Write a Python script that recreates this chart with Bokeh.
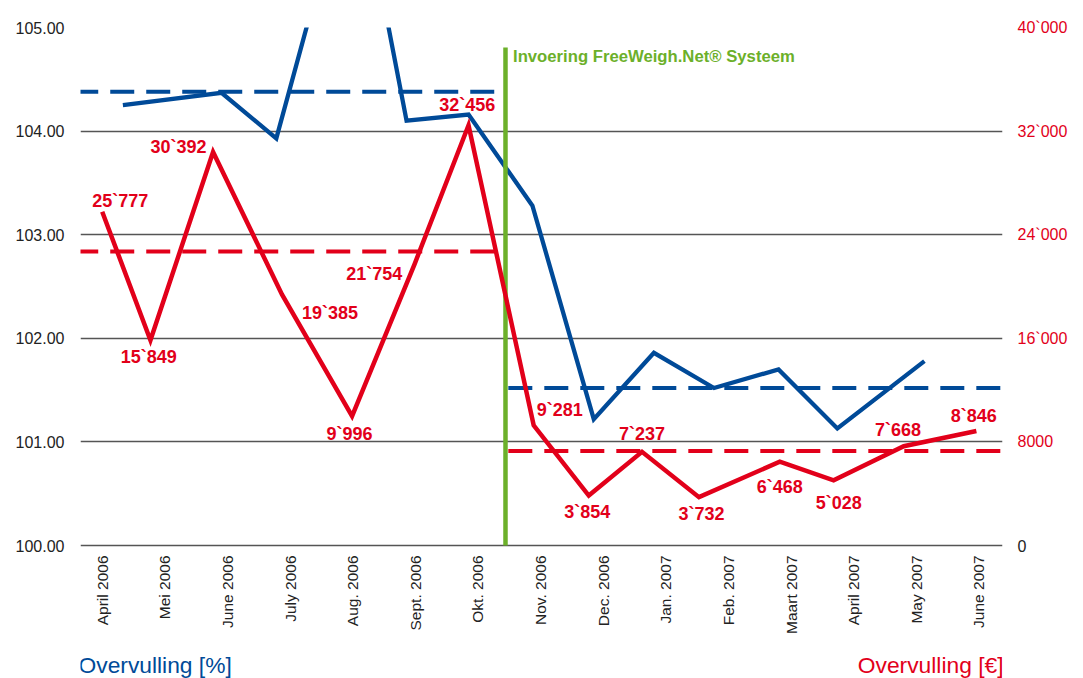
import math
from bokeh.plotting import figure
from bokeh.models import Range1d, LinearAxis, FixedTicker, ColumnDataSource, Label, NumeralTickFormatter
from bokeh.core.properties import value
from bokeh.embed import file_html
from bokeh.resources import INLINE

# ---------------- data ----------------
months = ["April 2006", "Mei 2006", "June 2006", "July 2006", "Aug. 2006", "Sept. 2006",
          "Okt. 2006", "Nov. 2006", "Dec. 2006", "Jan. 2007", "Feb. 2007", "Maart 2007",
          "April 2007", "May 2007", "June 2007"]
month_pos = list(range(len(months)))

# Overvulling in euro (labelled values) and where each point sits along the month axis
red_eur = [25777, 15849, 30392, 19385, 9996, 21754, 32456, 9281, 3854, 7237, 3732, 6468, 5028, 7668, 8846]
red_x = [0.0, 0.77, 1.77, 2.87, 3.99, 4.99, 5.85, 6.89, 7.77, 8.62, 9.53, 10.82, 11.68, 12.80, 13.96]

# Overvulling in percent
blue_x = [0.33, 1.905, 2.78, 4.03, 4.86, 5.85, 6.87, 7.85, 8.81, 9.77, 10.80, 11.74, 13.13]
blue_pct = [104.25, 104.37, 103.93, 106.70, 104.10, 104.16, 103.28, 101.22, 101.86, 101.52, 101.70, 101.13, 101.78]

# averages before / after the introduction
blue_avg = [104.38, 101.52]
red_avg = [22700, 7300]
intro_x = 6.44
intro_text = "Invoering FreeWeigh.Net® Systeem"

pct_ticks = [100, 101, 102, 103, 104, 105]
eur_ticks = [8000, 16000, 24000, 32000, 40000]
eur_tick_labels = ["8000", "16`000", "24`000", "32`000", "40`000"]
eur_zero = [0]
eur_per_pct = 8000

caption_pct = "Overvulling [%]"
caption_eur = "Overvulling [€]"

# ---------------- style / layout ----------------
BLUE = "#004a98"
RED = "#e2001a"
GREEN = "#6cb02a"
GRID = "#555555"
TXT = "#222222"
FONT = "Liberation Sans"

# label placement (pixels, screen: +x right, +y down)
lab_dx = [18, -1.6, -34.5, 48, -2.6, -40.4, -1.3, 26, -1.6, 0, 2.5, 0, 5.2, -5.7, -2.6]
lab_dy = [-11, 17, -4.7, 18.7, 17.7, 10, -20.4, -15.8, 16, -18, 16.6, 25.5, 22.4, -16.4, -15.4]

W, H = 1083, 678
FL, FR, FT = 80, 81, 27
AXIS_BOTTOM_PX = 545            # where the 100 % line sits on the page
x_lo, x_hi = -0.347, 14.377
ppm = (W - FL - FR) / (x_hi - x_lo)                    # pixels per month
ppp = (AXIS_BOTTOM_PX - FT) / (pct_ticks[-1] - pct_ticks[0])  # pixels per percent
y_lo = pct_ticks[0] - (H - AXIS_BOTTOM_PX) / ppp       # frame runs to the bottom of the page
y_hi = pct_ticks[-1]


def page_y(px):
    """percent value that sits at a given page row"""
    return pct_ticks[0] + (AXIS_BOTTOM_PX - px) / ppp


p = figure(width=W, height=H, x_range=Range1d(x_lo, x_hi), y_range=Range1d(y_lo, y_hi),
           output_backend="svg", toolbar_location=None, x_axis_location=None,
           min_border_left=FL, min_border_right=FR, min_border_top=FT, min_border_bottom=0)
p.extra_y_ranges = {"eur": Range1d((y_lo - pct_ticks[0]) * eur_per_pct, (y_hi - pct_ticks[0]) * eur_per_pct)}
p.outline_line_color = None
p.background_fill_color = "white"
p.border_fill_color = "white"

# grid
p.xgrid.visible = False
p.ygrid.ticker = FixedTicker(ticks=pct_ticks)
p.ygrid.grid_line_color = GRID
p.ygrid.grid_line_width = 1.3


def style_axis(ax, color, size, standoff):
    ax.axis_line_color = None
    ax.major_tick_line_color = None
    ax.minor_tick_line_color = None
    ax.major_tick_out = 0
    ax.major_tick_in = 0
    ax.minor_tick_out = 0
    ax.major_label_standoff = standoff
    ax.major_label_text_font = FONT
    ax.major_label_text_font_size = size
    ax.major_label_text_color = color


# left axis (percent)
ya = p.yaxis[0]
ya.ticker = FixedTicker(ticks=pct_ticks)
ya.formatter = NumeralTickFormatter(format="0.00")
style_axis(ya, TXT, "16px", 16)

# right axis (euro): the zero is printed in black, the others in red
za = LinearAxis(y_range_name="eur", ticker=FixedTicker(ticks=eur_zero))
style_axis(za, TXT, "16px", 15)
p.add_layout(za, "right")
ra = LinearAxis(y_range_name="eur", ticker=FixedTicker(ticks=eur_ticks),
                major_label_overrides={t: s for t, s in zip(eur_ticks, eur_tick_labels)})
style_axis(ra, RED, "16px", -12)
p.add_layout(ra, "right")

# month names under the 100 % line
p.text(x=month_pos, y=[pct_ticks[0]] * len(months), text=months, angle=math.pi / 2,
       y_offset=10, text_align="right", text_baseline="middle",
       text_font=value(FONT), text_font_size="15.5px", text_color=TXT)

# average dashed lines
p.segment(x0=[x_lo - 0.1, intro_x + 0.045], x1=[intro_x - 0.04, x_hi + 0.1],
          y0=blue_avg, y1=blue_avg, line_color=BLUE, line_width=4, line_dash="24 12")
p.segment(x0=[x_lo - 0.1, intro_x + 0.045], x1=[intro_x - 0.04, x_hi + 0.1],
          y0=red_avg, y1=red_avg, y_range_name="eur", line_color=RED, line_width=4, line_dash="24 12")

# series
p.line(blue_x, blue_pct, line_color=BLUE, line_width=4.3, line_join="miter")

# introduction marker
p.segment(x0=[intro_x], x1=[intro_x], y0=[pct_ticks[0]], y1=[page_y(47)], line_color=GREEN, line_width=4.5)

p.line(red_x, red_eur, y_range_name="eur", line_color=RED, line_width=4.5, line_join="miter")

src = ColumnDataSource(dict(x=red_x, y=red_eur,
                            label=[f"{v:,}".replace(",", "`") for v in red_eur],
                            dx=lab_dx, dy=lab_dy))
p.text(x="x", y="y", text="label", x_offset="dx", y_offset="dy", source=src, y_range_name="eur",
       text_align="center", text_baseline="middle", text_font=value(FONT),
       text_font_style="bold", text_font_size="18px", text_color=RED)

# introduction caption
p.add_layout(Label(x=intro_x, y=page_y(56.3), x_offset=7.5, text=intro_text, text_font=FONT,
                   text_font_style="bold", text_font_size="16.7px", text_color=GREEN,
                   text_baseline="alphabetic", text_align="left"))

# unit captions at the bottom of the page
cap_y = page_y(664.5)
p.add_layout(Label(x=x_lo, y=cap_y, x_offset=-2, text=caption_pct, text_font=FONT,
                   text_font_size="22.8px", text_color=BLUE, text_baseline="alphabetic", text_align="left"))
p.add_layout(Label(x=x_hi, y=cap_y, x_offset=1, text=caption_eur, text_font=FONT,
                   text_font_size="22.8px", text_color=RED, text_baseline="alphabetic", text_align="right"))

open("out.html", "w").write(file_html(p, INLINE))
